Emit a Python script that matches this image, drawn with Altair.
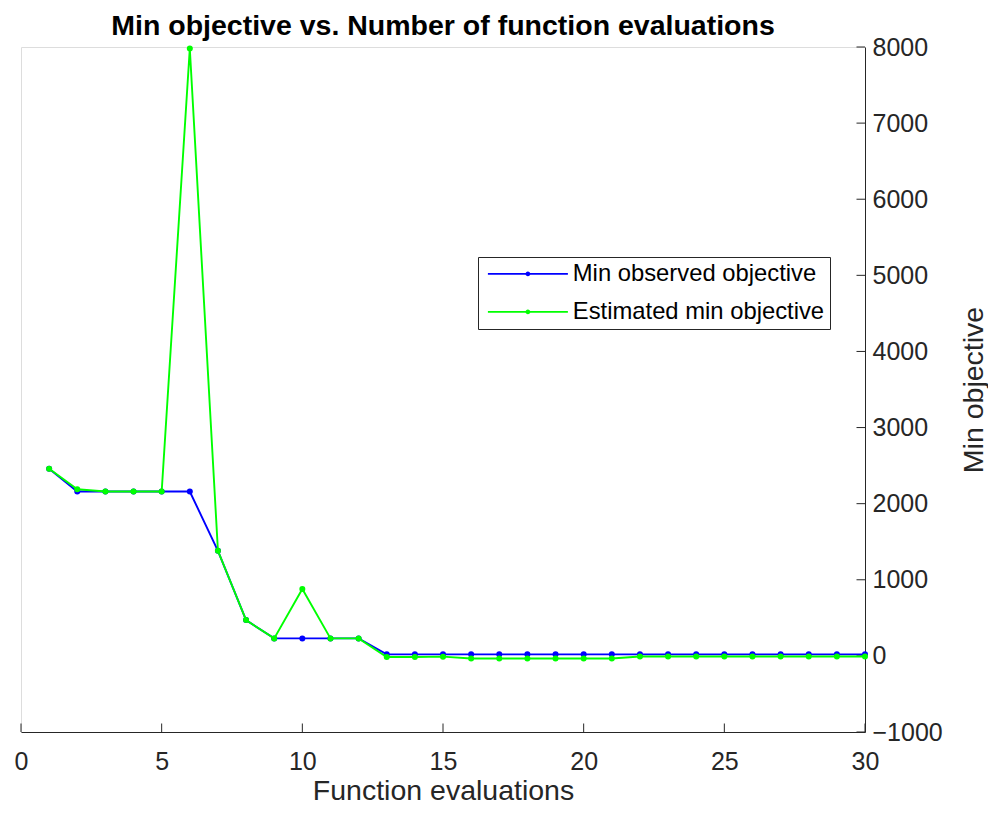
import altair as alt
import pandas as pd

# ---- data ----
evaluations = list(range(1, 31))
min_observed = [2460, 2160, 2160, 2160, 2160, 2160, 1380, 470, 230, 230,
                230, 230, 20, 20, 20, 20, 20, 20, 20, 20,
                20, 20, 20, 20, 20, 20, 20, 20, 20, 20]
estimated_min = [2460, 2190, 2160, 2160, 2160, 7980, 1380, 470, 230, 880,
                 230, 230, -15, -15, -10, -35, -35, -35, -35, -35,
                 -35, -8, -8, -8, -8, -8, -8, -8, -8, -8]
series_names = ["Min observed objective", "Estimated min objective"]
series_colors = ["#0000ff", "#00ff00"]
x_ticks = [0, 5, 10, 15, 20, 25, 30]
y_ticks = [-1000, 0, 1000, 2000, 3000, 4000, 5000, 6000, 7000, 8000]

rows = []
for e, v in zip(evaluations, min_observed):
    rows.append({"evals": e, "value": v, "series": series_names[0]})
for e, v in zip(evaluations, estimated_min):
    rows.append({"evals": e, "value": v, "series": series_names[1]})
df = pd.DataFrame(rows)

W, H = 844, 685
FONT = "Liberation Sans"
AX = "#262626"
TICK = 8.5

xscale = alt.Scale(domain=[0, 30], nice=False, zero=False)
yscale = alt.Scale(domain=[-1000, 8000], nice=False, zero=False)

xaxis = alt.Axis(values=x_ticks, format="d", ticks=False, tickSize=0, grid=False,
                 domainColor=AX, domainWidth=1, labelFont=FONT, labelFontSize=25,
                 labelColor=AX, labelPadding=17, labelFlush=False, labelOverlap=False,
                 titleFont=FONT, titleFontSize=28.5, titleFontWeight="normal",
                 titleColor=AX, titlePadding=2)
yaxis = alt.Axis(orient="right", values=y_ticks, format="d", ticks=False, tickSize=0,
                 grid=False, domainColor=AX, domainWidth=1, labelFont=FONT,
                 labelFontSize=25, labelColor=AX, labelPadding=7, labelFlush=False,
                 labelOverlap=False, titleFont=FONT, titleFontSize=28.5,
                 titleFontWeight="normal", titleColor=AX, titlePadding=46,
                 titleAngle=270)

LEG_PATH = ("M-4,0H4M-0.15,0A0.15,0.15,0,1,1,0.15,0"
            "A0.15,0.15,0,1,1,-0.15,0Z")

color = alt.Color(
    "series:N",
    scale=alt.Scale(domain=series_names, range=series_colors),
    title=None,
    legend=alt.Legend(orient="none", legendX=457, legendY=210, padding=5,
                      strokeColor=AX, fillColor="white",
                      symbolType=LEG_PATH, symbolSize=400, symbolStrokeWidth=1.8,
                      symbolOffset=33, labelOffset=33,
                      labelFont=FONT, labelFontSize=23.8, labelColor="black",
                      labelLimit=500, rowPadding=13),
)

x_enc = alt.X("evals:Q", scale=xscale, axis=xaxis, title="Function evaluations")
y_enc = alt.Y("value:Q", scale=yscale, axis=yaxis, title="Min objective")

xt = alt.Chart(pd.DataFrame({"evals": x_ticks})).mark_rule(color=AX, strokeWidth=1).encode(
    x=x_enc, y=alt.value(H - TICK), y2=alt.value(H))
yt = alt.Chart(pd.DataFrame({"value": y_ticks})).mark_rule(color=AX, strokeWidth=1).encode(
    y=y_enc, x=alt.value(W - TICK), x2=alt.value(W))

base = alt.Chart(df).encode(x=x_enc, y=y_enc, color=color)
blue = base.transform_filter(alt.datum.series == series_names[0]).mark_line(
    strokeWidth=1.9, point=alt.OverlayMarkDef(filled=True, size=36))
green = base.transform_filter(alt.datum.series == series_names[1]).mark_line(
    strokeWidth=1.9, point=alt.OverlayMarkDef(filled=True, size=36))

chart = alt.layer(xt, yt, blue, green).properties(
    width=W, height=H,
    title=alt.TitleParams("Min objective vs. Number of function evaluations",
                          font=FONT, fontSize=28.5, fontWeight="bold", color="black",
                          anchor="middle", offset=10, dy=15),
    padding={"left": 13, "top": 39, "right": 123, "bottom": 74},
    autosize=alt.AutoSizeParams(type="none"),
).configure_view(stroke=None).configure(background="white")

chart.save("out.html", embed_options={"renderer": "svg", "actions": False})
